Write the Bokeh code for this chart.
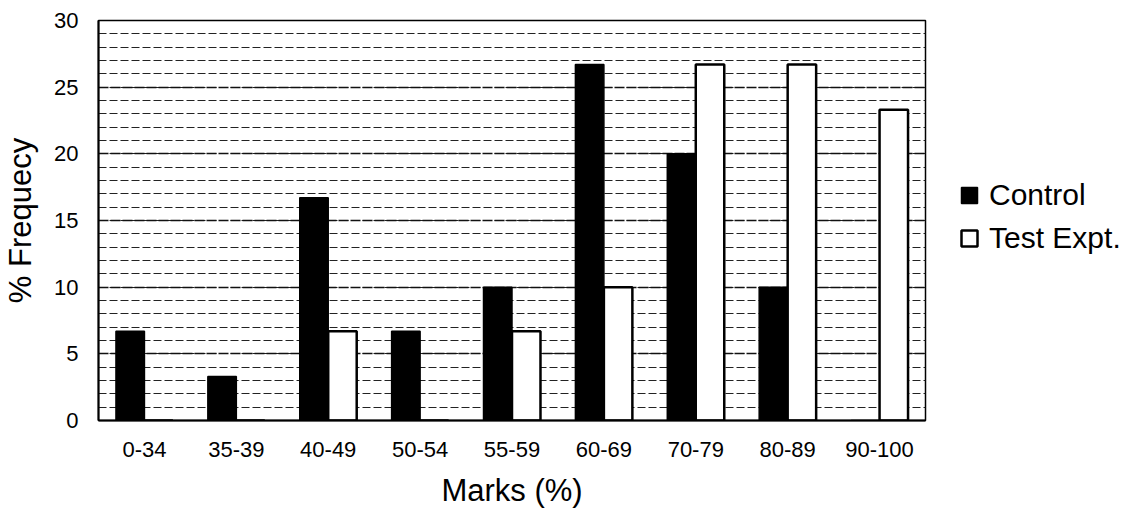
from bokeh.plotting import figure
from bokeh.models import ColumnDataSource, Legend, LegendItem, SingleIntervalTicker
from bokeh.transform import dodge
from bokeh.embed import file_html
from bokeh.resources import INLINE

categories = ["0-34", "35-39", "40-49", "50-54", "55-59", "60-69", "70-79", "80-89", "90-100"]
control = [6.7, 3.3, 16.7, 6.7, 10, 26.7, 20, 10, 0]
test_expt = [0, 0, 6.7, 0, 6.7, 10, 26.7, 26.7, 23.3]

FONT = "Liberation Sans"

source = ColumnDataSource(data=dict(cat=categories, control=control, test=test_expt))

p = figure(x_range=categories, y_range=(0, 30),
           frame_width=827, frame_height=400,
           min_border_left=88, min_border_top=20, min_border_right=204, min_border_bottom=74,
           output_backend="svg", toolbar_location=None)
p.x_range.range_padding = 0
p.background_fill_color = "white"
p.border_fill_color = "white"
p.outline_line_color = "black"
p.outline_line_width = 1.5

# grid
p.xgrid.grid_line_color = None
p.yaxis.ticker = SingleIntervalTicker(interval=5, num_minor_ticks=5)
p.ygrid.grid_line_color = "#111111"
p.ygrid.grid_line_width = 1.3
p.ygrid.grid_line_dash = "10 2"
p.ygrid.minor_grid_line_color = "#222222"
p.ygrid.minor_grid_line_width = 1.1
p.ygrid.minor_grid_line_dash = "8 3"

r1 = p.vbar(x=dodge("cat", -0.155, range=p.x_range), top="control", width=0.31, source=source,
            fill_color="black", line_color="black", line_width=1.5)
r2 = p.vbar(x=dodge("cat", 0.155, range=p.x_range), top="test", width=0.31, source=source,
            fill_color="white", line_color="black", line_width=2.5)

for ax in (p.xaxis, p.yaxis):
    ax.axis_line_color = "black"
    ax.axis_line_width = 2
    ax.major_tick_line_color = None
    ax.minor_tick_line_color = None
    ax.major_label_text_font = FONT
    ax.major_label_text_font_size = "22px"
    ax.major_label_text_color = "black"
    ax.axis_label_text_font = FONT
    ax.axis_label_text_font_size = "31px"
    ax.axis_label_text_font_style = "normal"
    ax.axis_label_text_color = "black"

p.xaxis.axis_label = "Marks (%)"
p.yaxis.axis_label = "% Frequecy"
p.xaxis.major_label_standoff = 15
p.xaxis.axis_label_standoff = 13
p.yaxis.major_label_standoff = 14
p.yaxis.axis_label_standoff = 13

legend = Legend(items=[LegendItem(label="Control", renderers=[r1]),
                       LegendItem(label="Test Expt.", renderers=[r2])],
                location=(34, 162), orientation="vertical",
                glyph_width=20, glyph_height=20, label_height=40, spacing=3,
                padding=0, margin=0, label_standoff=10,
                label_text_font=FONT, label_text_font_size="30px", label_text_color="black",
                background_fill_alpha=0, border_line_color=None)
p.add_layout(legend, "right")

open("out.html", "w").write(file_html(p, INLINE))
